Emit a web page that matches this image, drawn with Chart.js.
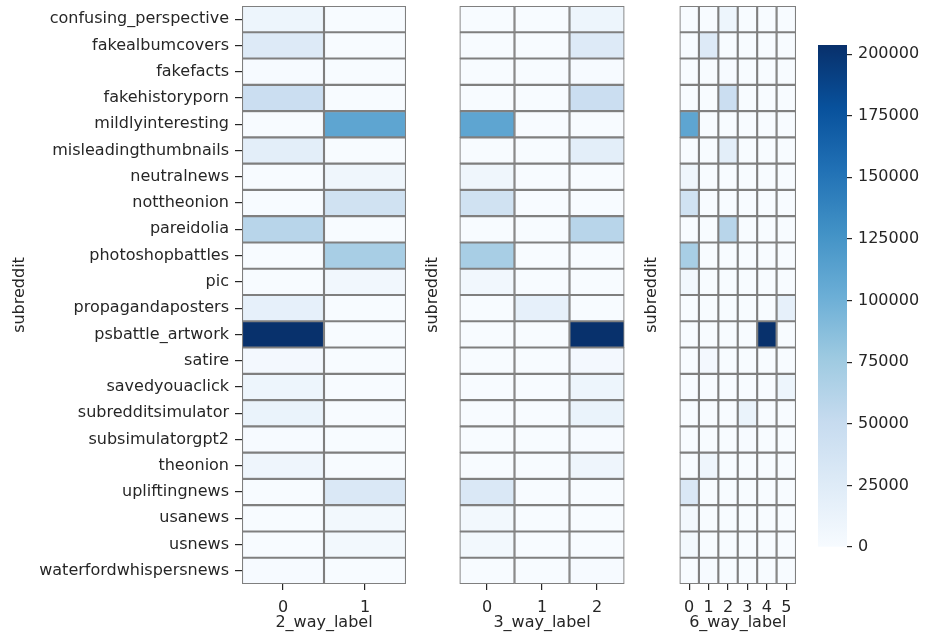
<!DOCTYPE html>
<html>
<head>
<meta charset="utf-8">
<script src="https://cdn.jsdelivr.net/npm/chart.js@4.4.1/dist/chart.umd.min.js"></script>
<style>
html,body{margin:0;padding:0;background:#ffffff;}
#wrap{position:relative;width:931px;height:638px;overflow:hidden;background:#fff;}
canvas{position:absolute;top:0;}
</style>
</head>
<body>
<div id="wrap">
  <canvas id="c1" width="410" height="638" style="left:0px"></canvas>
  <canvas id="c2" width="218" height="638" style="left:410px"></canvas>
  <canvas id="c3" width="170" height="638" style="left:630px"></canvas>
  <canvas id="cb" width="113" height="638" style="left:818px"></canvas>
</div>
<script>
// ---- data ----
const subreddits = [
  'confusing_perspective','fakealbumcovers','fakefacts','fakehistoryporn',
  'mildlyinteresting','misleadingthumbnails','neutralnews','nottheonion',
  'pareidolia','photoshopbattles','pic','propagandaposters','psbattle_artwork',
  'satire','savedyouaclick','subredditsimulator','subsimulatorgpt2','theonion',
  'upliftingnews','usanews','usnews','waterfordwhispersnews'
];
const labels2 = ['0','1'];
const labels3 = ['0','1','2'];
const labels6 = ['0','1','2','3','4','5'];

// counts per subreddit, one column per label
const counts2 = [
  [10000,0],[27000,0],[1000,0],[46000,0],
  [0,110000],[20000,0],[0,8000],[0,40000],
  [60000,0],[0,70000],[0,6000],[17000,0],[203000,0],
  [4000,0],[10000,0],[13000,0],[1500,0],[9000,0],
  [0,30000],[0,5000],[0,5000],[1500,0]
];
const counts3 = [
  [0,0,10000],[0,0,27000],[0,0,1000],[0,0,46000],
  [110000,0,0],[0,0,20000],[8000,0,0],[40000,0,0],
  [0,0,60000],[70000,0,0],[6000,0,0],[0,17000,0],[0,0,203000],
  [0,0,4000],[0,0,10000],[0,0,13000],[0,0,1500],[0,0,9000],
  [30000,0,0],[5000,0,0],[5000,0,0],[0,0,1500]
];
const counts6 = [
  [0,0,10000,0,0,0],[0,27000,0,0,0,0],[0,0,1000,0,0,0],[0,0,46000,0,0,0],
  [110000,0,0,0,0,0],[0,0,20000,0,0,0],[8000,0,0,0,0,0],[40000,0,0,0,0,0],
  [0,0,60000,0,0,0],[70000,0,0,0,0,0],[6000,0,0,0,0,0],[0,0,0,0,0,17000],[0,0,0,0,203000,0],
  [0,4000,0,0,0,0],[0,0,0,0,0,10000],[0,0,0,13000,0,0],[0,0,0,1500,0,0],[0,9000,0,0,0,0],
  [30000,0,0,0,0,0],[5000,0,0,0,0,0],[5000,0,0,0,0,0],[0,1500,0,0,0,0]
];
const colorbarTicks = [0,25000,50000,75000,100000,125000,150000,175000,200000];
const vmin = 0;
const vmax = 203700;

// ---- styling ----
const FONT = {family:"'DejaVu Sans', sans-serif", size:16};
const TXT = '#262626';
const BLUES = [[247,251,255],[222,235,247],[198,219,239],[158,202,225],[107,174,214],[66,146,198],[33,113,181],[8,81,156],[8,48,107]];
function blues(t){
  t = Math.max(0, Math.min(1, t));
  const p = t*(BLUES.length-1);
  const i = Math.min(Math.floor(p), BLUES.length-2);
  const f = p - i;
  const a = BLUES[i], b = BLUES[i+1];
  const c = a.map((v,k)=>Math.round(v+(b[k]-v)*f));
  return `rgb(${c[0]},${c[1]},${c[2]})`;
}

function heatmap(id, counts, colLabels, xTitle, cfg){
  const cols = colLabels.map((_,i)=>i);
  const datasets = cols.map(c => ({
    data: subreddits.map(() => [c-0.5, c+0.5]),
    backgroundColor: counts.map(r => blues((r[c]-vmin)/(vmax-vmin))),
    borderColor: '#7f7f7f',
    borderWidth: 1.4,
    borderSkipped: false,
    grouped: false,
    barPercentage: 1,
    categoryPercentage: 1
  }));
  return new Chart(document.getElementById(id), {
    type: 'bar',
    data: {labels: subreddits, datasets},
    options: {
      indexAxis: 'y',
      responsive: false,
      animation: false,
      events: [],
      layout: {padding: {top: 6, bottom: 0, left: 0, right: cfg.padRight}},
      plugins: {legend: {display: false}, tooltip: {enabled: false}},
      scales: {
        y: {
          type: 'category',
          offset: true,
          grid: {display: cfg.showY, drawOnChartArea: false, offset: false, tickLength: 7, color: TXT, lineWidth: 1.2},
          border: {display: false},
          ticks: {display: cfg.showY, padding: 6, font: FONT, color: TXT, autoSkip: false},
          title: {display: true, text: 'subreddit', font: FONT, color: TXT, padding: {top: cfg.titlePad, bottom: 0}},
          afterFit(s){ s.width = cfg.yWidth; s.paddingTop = 0; s.paddingBottom = 0; }
        },
        x: {
          type: 'linear',
          min: -0.5,
          max: colLabels.length - 0.5,
          afterBuildTicks(s){ s.ticks = cols.map(v => ({value: v})); },
          grid: {drawOnChartArea: false, tickLength: 6, color: TXT, lineWidth: 1.2},
          border: {display: false},
          ticks: {padding: 8, font: FONT, color: TXT, autoSkip: false, maxRotation: 0,
                  callback: v => colLabels[v]},
          title: {display: true, text: xTitle, font: FONT, color: TXT, padding: {top: 2, bottom: 6}},
          afterFit(s){ s.height = 54; s.paddingLeft = 0; s.paddingRight = 0; }
        }
      }
    }
  });
}

heatmap('c1', counts2, labels2, '2_way_label', {showY: true, yWidth: 242, padRight: 4, titlePad: 10});
heatmap('c2', counts3, labels3, '3_way_label', {showY: false, yWidth: 49.5, padRight: 3.5, titlePad: 13.4});
heatmap('c3', counts6, labels6, '6_way_label', {showY: false, yWidth: 49.5, padRight: 4, titlePad: 12.4});

// ---- colorbar ----
new Chart(document.getElementById('cb'), {
  type: 'bar',
  data: {labels: [''], datasets: [{
    data: [[vmin, vmax]],
    borderWidth: 0,
    barPercentage: 1,
    categoryPercentage: 1,
    backgroundColor(ctx){
      const chart = ctx.chart; const area = chart.chartArea;
      if (!area) return 'rgb(247,251,255)';
      const g = chart.ctx.createLinearGradient(0, area.bottom, 0, area.top);
      BLUES.forEach((c,i) => g.addColorStop(i/(BLUES.length-1), `rgb(${c[0]},${c[1]},${c[2]})`));
      return g;
    }
  }]},
  options: {
    responsive: false,
    animation: false,
    events: [],
    layout: {padding: {top: 45, bottom: 91, left: 0, right: 0}},
    plugins: {legend: {display: false}, tooltip: {enabled: false}},
    scales: {
      x: {display: false, offset: true},
      y: {
        position: 'right',
        min: vmin, max: vmax,
        afterBuildTicks(s){ s.ticks = colorbarTicks.map(v => ({value: v})); },
        grid: {drawOnChartArea: false, tickLength: 5, color: TXT, lineWidth: 1.2},
        border: {display: false},
        ticks: {padding: 6, font: FONT, color: TXT, callback: v => String(v)},
        afterFit(s){ s.width = 84; s.paddingTop = 0; s.paddingBottom = 0; }
      }
    }
  }
});
</script>
</body>
</html>
